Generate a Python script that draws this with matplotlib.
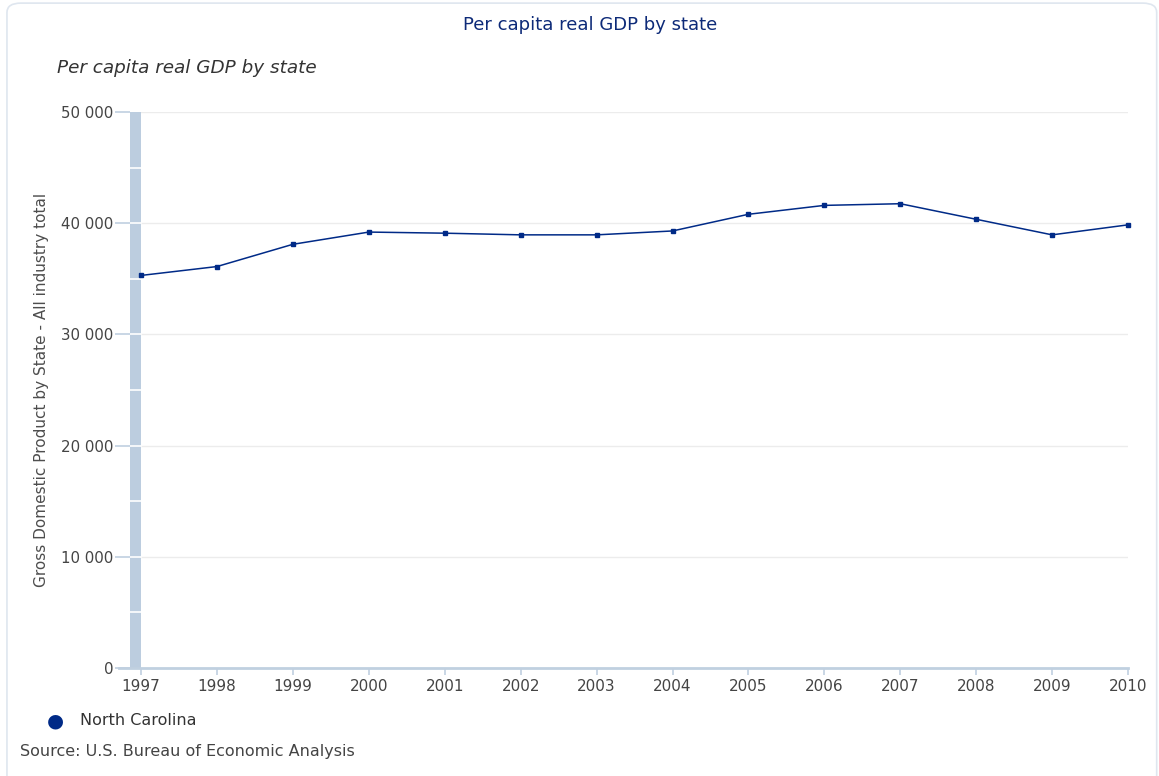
import matplotlib.pyplot as plt
from matplotlib.patches import FancyBboxPatch
import numpy as np

# Data
years = [1997, 1998, 1999, 2000, 2001, 2002, 2003, 2004, 2005, 2006, 2007, 2008, 2009, 2010]
gdp = [35300, 36100, 38100, 39200, 39100, 38950, 38950, 39300, 40800, 41600, 41750, 40350, 38950, 39850]
series_name = 'North Carolina'
yticks = [0, 10000, 20000, 30000, 40000, 50000]
ytick_labels = ['0', '10 000', '20 000', '30 000', '40 000', '50 000']

line_color = '#002a87'
axis_color = '#c0d0e0'
text_gray = '#444444'

plt.rcParams['font.family'] = ['DejaVu Sans']

fig = plt.figure(figsize=(11.59, 7.76), dpi=100)

# rounded outer border
border = FancyBboxPatch((0.006, -0.02), 0.992, 1.016, boxstyle='round,pad=0,rounding_size=0.012',
                        transform=fig.transFigure, facecolor='none', edgecolor='#dfe6ef', linewidth=1.2)
fig.patches.append(border)

ax = fig.add_axes([0.1122, 0.1392, 0.8611, 0.7165])

x_left = 1997 - 11 / 76
ax.set_xlim(x_left, 2010)
ax.set_ylim(0, 50000)

# left plot band
ax.axvspan(x_left, 1997, color='#bccddf', zorder=1, linewidth=0)
for yv in range(5000, 50000, 5000):
    ax.plot([x_left, 1997], [yv, yv], color='white', linewidth=1.2, zorder=1.5)

# major gridlines
for yv in yticks[1:]:
    ax.axhline(yv, color='#ececec', linewidth=1, zorder=0.5)

ax.plot(years, gdp, color=line_color, linewidth=1.1, marker='s', markersize=3,
        zorder=3, clip_on=False)

for s in ['top', 'right', 'left']:
    ax.spines[s].set_visible(False)
ax.spines['bottom'].set_color(axis_color)
ax.spines['bottom'].set_linewidth(2)
ax.spines['bottom'].set_bounds(x_left - 11 / 76, 2010)
ax.spines['bottom'].set_zorder(2)

ax.set_xticks(years)
ax.set_xticklabels([str(y) for y in years])
ax.set_yticks(yticks)
ax.set_yticklabels(ytick_labels)
ax.tick_params(axis='x', length=5, width=1.2, color=axis_color, pad=3, labelsize=11, labelcolor=text_gray)
ax.tick_params(axis='y', length=11, width=1.2, color=axis_color, pad=1, labelsize=10.8, labelcolor=text_gray)
for t in ax.get_yticklabels():
    t.set_verticalalignment('center_baseline')

ax.set_ylabel('Gross Domestic Product by State - All industry total', fontsize=11,
              color='#4d4d4d')
ax.yaxis.set_label_coords(-0.081, 0.5)

fig.text(0.509, 0.968, 'Per capita real GDP by state', ha='center', va='center',
         fontsize=13, color='#0d2a78')
fig.text(0.049, 0.913, 'Per capita real GDP by state', ha='left', va='center',
         fontsize=13.2, color='#333333', style='italic')

# legend
fig.text(0.0475, 0.0715, '\u25cf', ha='center', va='center', fontsize=14, color=line_color)
fig.text(0.069, 0.0715, series_name, ha='left', va='center', fontsize=11.5, color='#333333')

fig.text(0.017, 0.031, 'Source: U.S. Bureau of Economic Analysis', ha='left', va='center',
         fontsize=11.5, color=text_gray)

fig.savefig('out.png', dpi=100)
